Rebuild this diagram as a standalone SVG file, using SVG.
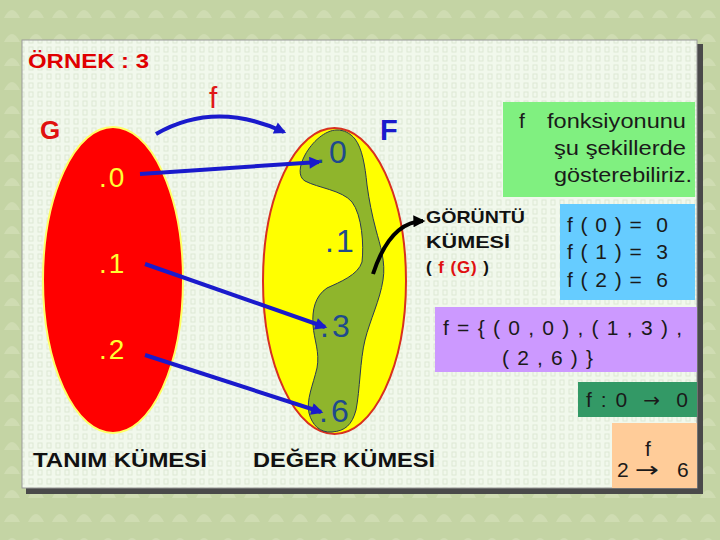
<svg xmlns="http://www.w3.org/2000/svg" width="720" height="540" viewBox="0 0 720 540">
<defs>
<pattern id="bgp" width="24" height="24" patternUnits="userSpaceOnUse">
<rect width="24" height="24" fill="#c4d4a4"/>
<path d="M4,18 Q12,2 20,18 Z" fill="#cfdcb2"/>
</pattern>
<pattern id="pp" width="9" height="9" patternUnits="userSpaceOnUse">
<rect width="9" height="9" fill="#f1f8ec"/>
<rect x="2" y="2" width="4" height="5" fill="none" stroke="#dde9d4" stroke-width="1"/>
</pattern>
<marker id="ab" viewBox="0 0 10 10" refX="8" refY="5" markerWidth="16" markerHeight="12" markerUnits="userSpaceOnUse" orient="auto"><path d="M0,0 L10,5 L0,10 z" fill="#1a1acc"/></marker>
<marker id="ak" viewBox="0 0 10 10" refX="8" refY="5" markerWidth="14" markerHeight="12" markerUnits="userSpaceOnUse" orient="auto"><path d="M0,0 L10,5 L0,10 z" fill="#000"/></marker>
</defs>
<style>
text{font-family:"Liberation Sans",Arial,sans-serif}
.b{font-weight:bold}
.gv{fill:#ffff33;font-size:28px}
.fv{fill:#1f4a8c;font-size:32px}
.bx{font-size:21px;fill:#1a1a1a}
.lbl{font-size:21px;font-weight:bold;fill:#111}
.arr{font-family:"DejaVu Sans",sans-serif}
.conn{stroke:#1a1acc;stroke-width:4;fill:none;marker-end:url(#ab)}
</style>
<rect width="720" height="540" fill="url(#bgp)"/>
<g id="panel">
<rect x="26" y="44" width="677" height="450" fill="#4a4a4a"/>
<rect x="22" y="40" width="675" height="448" fill="url(#pp)" stroke="#9a9a9a" stroke-width="1"/>
<text x="28" y="68" class="b" font-size="21" fill="#e00000" textLength="121" lengthAdjust="spacingAndGlyphs">ÖRNEK : 3</text>
</g>
<g id="setG">
<ellipse cx="113" cy="280" rx="70" ry="153" fill="#ff0000" stroke="#ffff66" stroke-width="2"/>
<text x="40" y="139" class="b" font-size="26" fill="#e01010">G</text>
<text x="99" y="187" class="gv" letter-spacing="2">.0</text>
<text x="99" y="273" class="gv" letter-spacing="2">.1</text>
<text x="99" y="359" class="gv" letter-spacing="2">.2</text>
<text x="33" y="467" class="lbl" textLength="174" lengthAdjust="spacingAndGlyphs">TANIM KÜMESİ</text>
</g>
<g id="setF">
<ellipse cx="334.5" cy="281" rx="71.5" ry="153" fill="#ffff00" stroke="#d83020" stroke-width="2"/>
<path d="M337,130 C325,130 312,142 305,155 C299,166 298,177 305,181 C318,188 342,190 352,202 C362,215 364,245 362,262 C358,275 340,282 327,288 C315,296 312,310 313,325 C314,340 320,352 317,368 C313,385 306,400 309,413 C312,425 320,433 332,432 C345,431 352,425 356,410 C360,390 360,360 365,340 C370,320 380,300 383,280 C386,262 380,245 376,230 C372,215 369,200 367,185 C365,165 362,148 355,139 C350,133 344,130 337,130 Z" fill="#8fb52c" stroke="#2a3a50" stroke-width="1"/>
<text x="380" y="140" class="b" font-size="29" fill="#1a1acc">F</text>
<text x="316" y="163" class="fv" letter-spacing="4">.0</text>
<text x="325" y="252" class="fv" fill="#2233bb" letter-spacing="2">.1</text>
<text x="320" y="337" class="fv" letter-spacing="3">.3</text>
<text x="319" y="422" class="fv" letter-spacing="3">.6</text>
<text x="253" y="467" class="lbl" textLength="182" lengthAdjust="spacingAndGlyphs">DEĞER KÜMESİ</text>
</g>
<g id="fLabel">
<text x="209" y="108" font-size="30" fill="#e01818">f</text>
</g>
<g id="image">
<text class="b" font-size="17" fill="#111"><tspan x="426" y="223" textLength="99" lengthAdjust="spacingAndGlyphs">GÖRÜNTÜ</tspan><tspan x="426" y="248" textLength="84" lengthAdjust="spacingAndGlyphs">KÜMESİ</tspan><tspan x="426" y="273" textLength="63" lengthAdjust="spacing">( <tspan fill="#e01010">f (G)</tspan> )</tspan></text>
</g>
<g id="boxDesc">
<rect x="503" y="102" width="192" height="95" fill="#80f080"/>
<text x="519" y="128" class="bx" font-size="23">f</text>
<text x="547" y="128" class="bx" font-size="23" textLength="139" lengthAdjust="spacingAndGlyphs">fonksiyonunu</text>
<text x="554" y="155" class="bx" font-size="23" textLength="132" lengthAdjust="spacingAndGlyphs">şu şekillerde</text>
<text x="554" y="182" class="bx" font-size="23" textLength="138" lengthAdjust="spacingAndGlyphs">gösterebiliriz.</text>
</g>
<g id="boxValues">
<rect x="560" y="204" width="135" height="96" fill="#66ccff"/>
<text x="567" y="232" class="bx" textLength="101" lengthAdjust="spacing" xml:space="preserve">f ( 0 ) =  0</text>
<text x="567" y="259" class="bx" textLength="101" lengthAdjust="spacing" xml:space="preserve">f ( 1 ) =  3</text>
<text x="567" y="287" class="bx" textLength="101" lengthAdjust="spacing" xml:space="preserve">f ( 2 ) =  6</text>
</g>
<g id="boxSet">
<rect x="435" y="307" width="262" height="65" fill="#cc99ff"/>
<text x="443" y="335" class="bx" textLength="239" lengthAdjust="spacing">f = { ( 0 , 0 ) , ( 1 , 3 ) ,</text>
<text x="502" y="365" class="bx" textLength="91" lengthAdjust="spacing">( 2 , 6 ) }</text>
</g>
<g id="boxMap">
<rect x="578" y="382" width="119" height="35" fill="#339966"/>
<text x="586" y="407" class="bx" fill="#0e1e12" xml:space="preserve" textLength="102" lengthAdjust="spacing">f : 0  <tspan class="arr" font-size="20">→</tspan>  0</text>
</g>
<g id="boxArrow">
<rect x="612" y="423" width="85" height="65" fill="#ffcc99"/>
<text x="617" y="477" class="bx">2</text>
<text x="635" y="477" class="bx arr" font-size="17" textLength="24" lengthAdjust="spacingAndGlyphs">→</text>
<text x="645" y="456" class="bx">f</text>
<text x="677" y="477" class="bx">6</text>
</g>
<g id="connectors">
<path class="conn" d="M156,134 Q215,100 284,132"/>
<path class="conn" d="M140,174 L319,162"/>
<path class="conn" d="M145,264 L325,327"/>
<path class="conn" d="M145,355 L321,412"/>
<path d="M373,274 Q390,222 423,221" stroke="#000" stroke-width="4" fill="none" marker-end="url(#ak)"/>
</g>
</svg>
